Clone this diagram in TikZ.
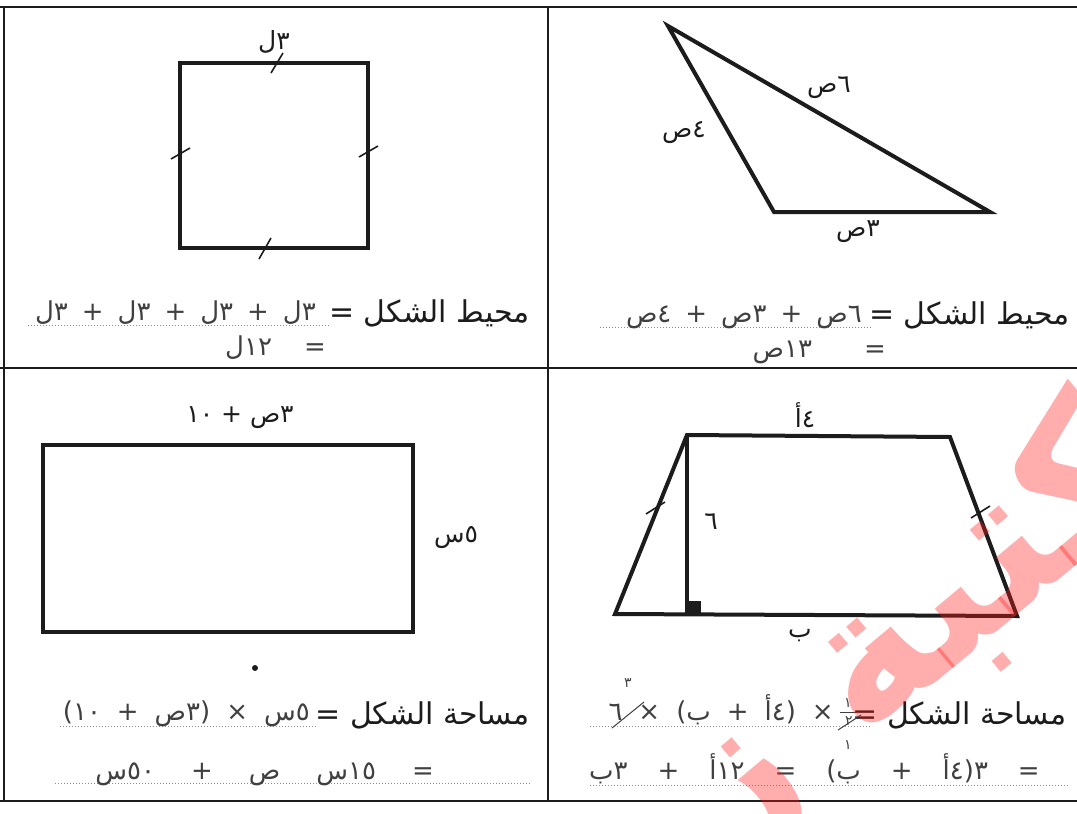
\documentclass[tikz,border=0pt]{standalone}
\usepackage{fontspec}
\usepackage{tikz}
\usetikzlibrary{positioning}
\TeXXeTstate=1
\newfontfamily\arabicfont[Script=Arabic]{DejaVu Sans}
\definecolor{ink}{HTML}{1C1C1C}
\definecolor{pen}{HTML}{404040}
\definecolor{dots}{HTML}{8C8C8C}
\definecolor{stamp}{HTML}{FF1E1E}
\newcommand{\gap}[1]{\spaceskip=#1\relax}

\begin{document}
\begin{tikzpicture}[
  x=1pt,
  y=-1pt,
  gridline/.style={draw=ink,line width=2.6pt},
  outline/.style={draw=ink,line width=4pt,line join=miter},
  tickmark/.style={draw=ink,line width=1.6pt},
  printed/.style={font=\arabicfont\fontsize{30}{34}\selectfont,text=ink,inner sep=0pt},
  sidelabel/.style={font=\arabicfont\fontsize{25}{29}\selectfont,text=ink,inner sep=0pt},
  hand/.style={font=\arabicfont\fontsize{26}{30}\selectfont,text=pen,inner sep=0pt},
  small/.style={font=\arabicfont\fontsize{14}{16}\selectfont,text=pen,inner sep=0pt},
  strike/.style={draw=pen,line width=1pt},
  answerline/.style={draw=dots,line width=1pt,dotted}
]
  \useasboundingbox (0,0) rectangle (1077,814);
  \fill[white] (0,0) rectangle (1077,814);

  % Grid
  \draw[gridline] (0,7) -- (1077,7);
  \draw[gridline] (0,368) -- (1077,368);
  \draw[gridline] (0,801) -- (1077,801);
  \draw[gridline] (4,7) -- (4,801);
  \draw[gridline] (548,7) -- (548,801);

  % Square
  \coordinate (sq-a) at (180,63);
  \coordinate (sq-b) at (368,63);
  \coordinate (sq-c) at (368,248);
  \coordinate (sq-d) at (180,248);
  \draw[outline] (sq-a) -- (sq-b) -- (sq-c) -- (sq-d) -- cycle;
  \draw[tickmark] (271,73) -- (283,53);
  \draw[tickmark] (171,159) -- (190,148);
  \draw[tickmark] (359,157) -- (378,146);
  \draw[tickmark] (259,259) -- (271,238);
  \node[sidelabel] (sq-side) at (274,42) {\beginR ٣ل\endR};
  \node[printed,anchor=base east] (sq-title) at (530,322) {\beginR محيط الشكل =\endR};
  \draw[answerline] (28,325) -- (330,325);
  \node[hand,anchor=base east] (sq-ans) at (316,320) {\gap{14pt}\beginR ٣ل + ٣ل + ٣ل + ٣ل\endR};
  \node[hand,anchor=base east] (sq-res) at (326,355) {\gap{32pt}\beginR = ١٢ل\endR};

  % Triangle
  \coordinate (tr-a) at (668,26);
  \coordinate (tr-b) at (774,212);
  \coordinate (tr-c) at (990,212);
  \draw[outline] (tr-a) -- (tr-b) -- (tr-c) -- cycle;
  \node[sidelabel] (tr-long) at (829,88) {\beginR ٦ص\endR};
  \node[sidelabel] (tr-left) at (684,133) {\beginR ٤ص\endR};
  \node[sidelabel] (tr-base) at (858,232) {\beginR ٣ص\endR};
  \node[printed,anchor=base east] (tr-title) at (1070,324) {\beginR محيط الشكل =\endR};
  \draw[answerline] (600,327) -- (872,327);
  \node[hand,anchor=base east] (tr-ans) at (862,322) {\gap{14pt}\beginR ٦ص + ٣ص + ٤ص\endR};
  \node[hand,anchor=base east] (tr-res) at (886,357) {\gap{52pt}\beginR = ١٣ص\endR};

  % Rectangle
  \coordinate (re-a) at (43,445);
  \coordinate (re-b) at (413,445);
  \coordinate (re-c) at (413,632);
  \coordinate (re-d) at (43,632);
  \draw[outline] (re-a) -- (re-b) -- (re-c) -- (re-d) -- cycle;
  \node[sidelabel] (re-top) at (240,418) {\beginR ٣ص + ١٠\endR};
  \node[sidelabel] (re-side) at (456,538) {\beginR ٥س\endR};
  \fill[ink] (255,668) circle (3);
  \node[printed,anchor=base east] (re-title) at (530,724) {\beginR مساحة الشكل =\endR};
  \draw[answerline] (60,726) -- (318,726);
  \node[hand,anchor=base east] (re-ans) at (310,720) {\gap{16pt}\beginR ٥س × (٣ص + ١٠)\endR};
  \draw[answerline] (55,783) -- (530,783);
  \node[hand,anchor=base east] (re-res) at (434,779) {\gap{36pt}\beginR = ١٥س ص + ٥٠س\endR};

  % Trapezoid
  \coordinate (tz-a) at (687,435);
  \coordinate (tz-b) at (950,437);
  \coordinate (tz-c) at (1017,616);
  \coordinate (tz-d) at (615,614);
  \coordinate (tz-h) at (687,615);
  \draw[outline] (tz-a) -- (tz-b) -- (tz-c) -- (tz-d) -- cycle;
  \draw[outline] (tz-a) -- (tz-h);
  \fill[ink] (687,601) rectangle (701,615);
  \draw[tickmark] (646,514) -- (665,502);
  \draw[tickmark] (971,518) -- (990,506);
  \node[sidelabel] (tz-top) at (805,415) {\beginR ٤أ\endR};
  \node[sidelabel] (tz-height) at (711,522) {٦};
  \node[sidelabel] (tz-base) at (800,636) {\beginR ب\endR};
  \node[printed,anchor=base east] (tz-title) at (1067,724) {\beginR مساحة الشكل =\endR};
  \draw[answerline] (590,726) -- (872,726);
  \node[hand,anchor=base east] (tz-ans) at (834,720) {\gap{16pt}\beginR × (٤أ + ب) × ٦\endR};
  \node[small] (tz-num) at (848,703) {١};
  \node[small] (tz-den) at (849,721) {٢};
  \draw[pen,line width=1pt] (840,712) -- (857,712);
  \node[small] (tz-three) at (628,683) {٣};
  \node[small] (tz-one) at (848,745) {١};
  \draw[strike] (612,728) -- (644,702);
  \draw[strike] (838,730) -- (861,715);
  \draw[answerline] (590,785) -- (1070,785);
  \node[hand,anchor=base east] (tz-res) at (1040,779) {\gap{30pt}\beginR = ٣(٤أ + ب) = ١٢أ + ٣ب\endR};

  % Stamp
  \begin{scope}
    \clip (0,0) rectangle (1077,814);
    \node[rotate=40,text=stamp,opacity=0.36,inner sep=0pt,
      font=\arabicfont\bfseries\fontsize{195}{195}\selectfont] (stamp) at (868,674)
      {\beginR كتبة زه\endR};
  \end{scope}
\end{tikzpicture}
\end{document}
